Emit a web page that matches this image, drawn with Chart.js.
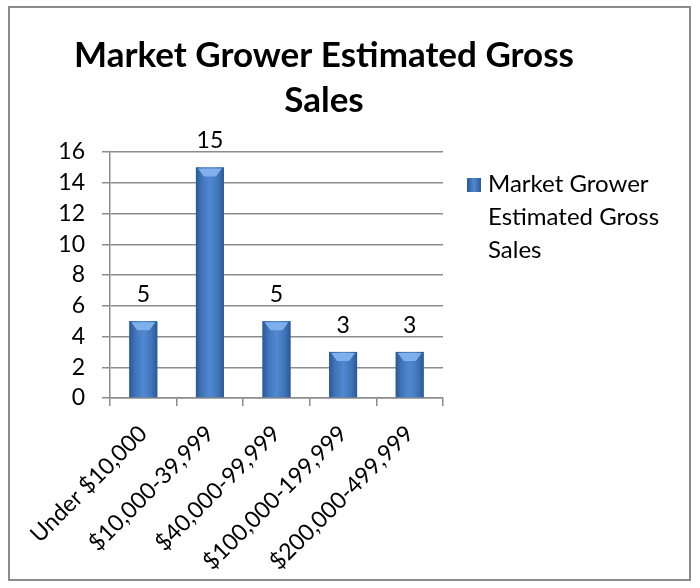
<!DOCTYPE html>
<html lang="en">
<head>
<meta charset="UTF-8">
<title>Market Grower Estimated Gross Sales</title>
<script src="https://cdn.jsdelivr.net/npm/chart.js"></script>
<style>
  html, body { margin: 0; padding: 0; background: #fff; }
  #wrap { width: 700px; height: 588px; position: relative; }
</style>
</head>
<body>
<div id="wrap"><canvas id="salesChart" width="700" height="588"></canvas></div>
<script>
const categories = ['Under $10,000', '$10,000-39,999', '$40,000-99,999', '$100,000-199,999', '$200,000-499,999'];
const salesCounts = [5, 15, 5, 3, 3];
const seriesName = 'Market Grower Estimated Gross Sales';
const titleLines = ['Market Grower Estimated Gross', 'Sales'];
const legendLines = ['Market Grower', 'Estimated Gross', 'Sales'];

const FONT = 'Lato, "Open Sans", sans-serif';
const GRID = '#8c8c8c';

// frame, title, legend, bar shading and value labels
const decor = {
  id: 'decor',
  beforeDraw(chart) {
    const ctx = chart.ctx;
    ctx.save();
    ctx.strokeStyle = '#8a8a8a';
    ctx.lineWidth = 2;
    ctx.strokeRect(9, 7, 681, 573);
    ctx.restore();
  },
  afterDatasetsDraw(chart) {
    const ctx = chart.ctx;
    const meta = chart.getDatasetMeta(0);
    ctx.save();
    meta.data.forEach((bar, i) => {
      const p = bar.getProps(['x', 'y', 'base', 'width'], true);
      const l = p.x - p.width / 2, r = p.x + p.width / 2;
      const g = ctx.createLinearGradient(l, 0, r, 0);
      g.addColorStop(0, '#2a5896');
      g.addColorStop(0.2, '#3f74b8');
      g.addColorStop(0.5, '#5089d2');
      g.addColorStop(0.8, '#3f74b8');
      g.addColorStop(1, '#2a5896');
      ctx.fillStyle = g;
      ctx.fillRect(l, p.y, p.width, p.base - p.y);
      // light bevel on top
      ctx.fillStyle = '#7fb0ec';
      ctx.beginPath();
      ctx.moveTo(l + 2, p.y + 1);
      ctx.lineTo(r - 2, p.y + 1);
      ctx.lineTo(p.x + 6, p.y + 9);
      ctx.lineTo(p.x - 6, p.y + 9);
      ctx.closePath();
      ctx.fill();
      // value label
      ctx.fillStyle = '#000';
      ctx.font = '23px ' + FONT;
      ctx.textAlign = 'center';
      ctx.textBaseline = 'alphabetic';
      ctx.fillText(String(salesCounts[i]), p.x, p.y - 19);
    });
    ctx.restore();
  },
  afterDraw(chart) {
    const ctx = chart.ctx;
    ctx.save();
    ctx.fillStyle = '#000';
    ctx.font = 'bold 35px ' + FONT;
    ctx.textAlign = 'center';
    ctx.textBaseline = 'alphabetic';
    ctx.fillText(titleLines[0], 324, 67);
    ctx.fillText(titleLines[1], 324, 112);

    // legend
    const sq = ctx.createLinearGradient(467, 0, 481, 0);
    sq.addColorStop(0, '#2a5896');
    sq.addColorStop(0.5, '#5089d2');
    sq.addColorStop(1, '#2a5896');
    ctx.fillStyle = sq;
    ctx.fillRect(467, 178, 14, 14);
    ctx.fillStyle = '#000';
    ctx.font = '24px ' + FONT;
    ctx.textAlign = 'left';
    legendLines.forEach((t, k) => ctx.fillText(t, 488, 192 + k * 33));
    ctx.restore();
  }
};

new Chart(document.getElementById('salesChart'), {
  type: 'bar',
  data: {
    labels: categories,
    datasets: [{
      label: seriesName,
      data: salesCounts,
      backgroundColor: '#4a7ebb',
      barPercentage: 0.42,
      categoryPercentage: 1
    }]
  },
  options: {
    responsive: false,
    animation: false,
    layout: { padding: { left: 20, right: 257, top: 152, bottom: 0 } },
    plugins: {
      legend: { display: false },
      title: { display: false },
      tooltip: { enabled: false }
    },
    scales: {
      y: {
        min: 0,
        max: 16,
        ticks: { stepSize: 2, color: '#000', font: { family: FONT, size: 23 }, padding: 17 },
        grid: { color: GRID, lineWidth: 1.5, tickLength: 8 },
        border: { color: GRID, width: 1.5 },
        afterFit(scale) { scale.width = 90; }
      },
      x: {
        ticks: { color: '#000', font: { family: FONT, size: 23 }, minRotation: 45, maxRotation: 45, padding: 14 },
        grid: { drawOnChartArea: false, color: GRID, lineWidth: 1.5, tickLength: 8 },
        border: { color: GRID, width: 1.5 },
        afterFit(scale) { scale.height = 190; }
      }
    }
  },
  plugins: [decor]
});
</script>
</body>
</html>
